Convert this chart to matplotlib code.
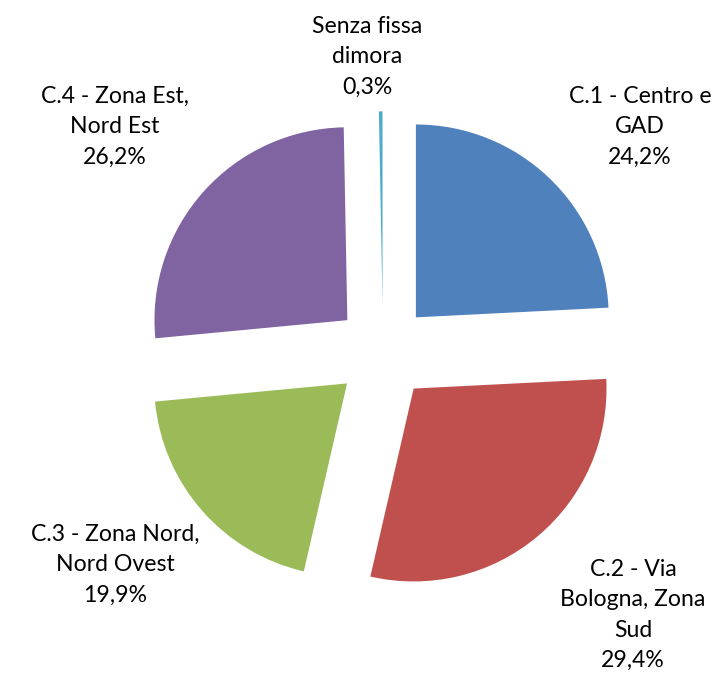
import matplotlib.pyplot as plt

plt.rcParams['font.family'] = ['Lato', 'DejaVu Sans']

# data
categories = ["C.1 - Centro e\nGAD", "C.2 - Via\nBologna, Zona\nSud",
              "C.3 - Zona Nord,\nNord Ovest", "C.4 - Zona Est,\nNord Est",
              "Senza fissa\ndimora"]
shares = [24.2, 29.4, 19.9, 26.2, 0.3]
colors = ["#4F81BD", "#C0504D", "#9BBB59", "#8064A2", "#4BACC6"]

# label centres (in pie-radius units)
label_pos = [(1.346, 1.178), (1.309, -1.377), (-1.403, -1.115),
             (-1.403, 1.178), (-0.084, 1.545)]

fig = plt.figure(figsize=(7.18, 6.77), dpi=100)
ax = fig.add_axes([0, 0, 1, 1])

ax.pie(shares, colors=colors, startangle=90, counterclock=False,
       explode=[0.25] * len(shares), radius=1.01, center=(0, 0),
       wedgeprops=dict(linewidth=0))

for name, val, (x, y) in zip(categories, shares, label_pos):
    txt = name + "\n" + f"{val:.1f}%".replace(".", ",")
    ax.text(x, y, txt, ha="center", va="center", fontsize=16.6,
            linespacing=1.55, color="black")

ax.set_xlim(-2.005, 1.754)
ax.set_ylim(-1.702, 1.843)
ax.set_aspect("equal")
ax.axis("off")

fig.savefig("out.png", dpi=100)
